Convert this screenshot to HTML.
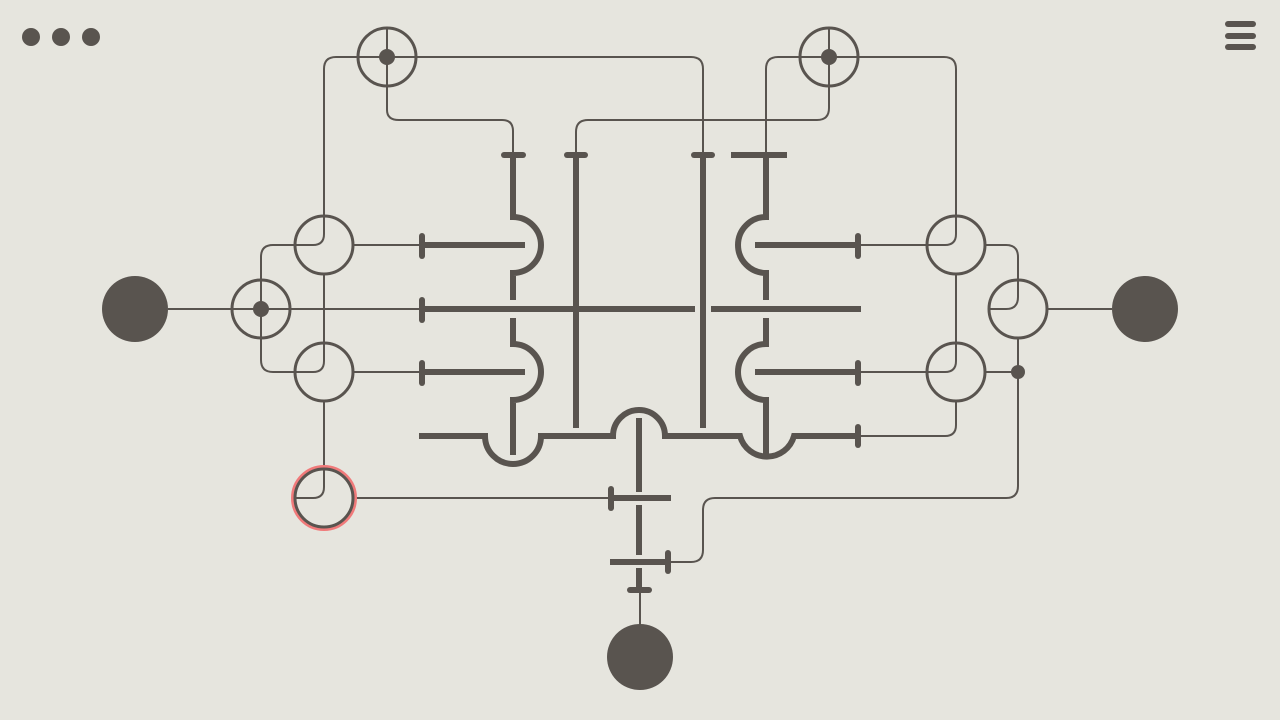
<!DOCTYPE html>
<html><head><meta charset="utf-8"><style>
html,body{margin:0;padding:0;background:#e6e5de;width:1280px;height:720px;overflow:hidden}
</style></head><body>
<svg width="1280" height="720" viewBox="0 0 1280 720" xmlns="http://www.w3.org/2000/svg">
<rect width="1280" height="720" fill="#e6e5de"/>
<g fill="#59544f">
<circle cx="31" cy="37" r="9"/><circle cx="61" cy="37" r="9"/><circle cx="91" cy="37" r="9"/>
<rect x="1225" y="21" width="31" height="6" rx="3"/><rect x="1225" y="33" width="31" height="6" rx="3"/><rect x="1225" y="44" width="31" height="6" rx="3"/>
<circle cx="135" cy="309" r="33"/><circle cx="1145" cy="309" r="33"/><circle cx="640" cy="657" r="33"/>
<circle cx="261" cy="309" r="8"/><circle cx="387" cy="57" r="8"/><circle cx="829" cy="57" r="8"/>
<circle cx="1018" cy="372" r="7"/>
</g>
<g fill="none" stroke="#59544f" stroke-width="2">
<path d="M168 309 H422"/>
<path d="M261 309 V257 Q261 245 273 245 H295"/>
<path d="M353 245 H422"/>
<path d="M261 309 V360 Q261 372 273 372 H313 Q324 372 324 361 V275"/>
<path d="M295 245 H313 Q324 245 324 234 V69 Q324 57 336 57 H691 Q703 57 703 69 V155"/>
<path d="M387 28 V110 Q387 120 399 120 H502 Q513 120 513 131 V155"/>
<path d="M353 372 H422"/>
<path d="M324 402 V487 Q324 498 313 498 H295"/>
<path d="M355 498 H610"/>
<path d="M829 28 V108 Q829 120 817 120 H588 Q576 120 576 132 V155"/>
<path d="M766 155 V69 Q766 57 778 57 H944 Q956 57 956 69 V234 Q956 245 945 245 H858"/>
<path d="M985 245 H1006 Q1018 245 1018 257 V297 Q1018 309 1006 309 H990"/>
<path d="M1048 309 H1112"/>
<path d="M956 275 V361 Q956 372 945 372 H858"/>
<path d="M985 372 H1018"/>
<path d="M956 402 V425 Q956 436 945 436 H858"/>
<path d="M1018 338 V486 Q1018 498 1006 498 H715 Q703 498 703 510 V550 Q703 562 691 562 H668"/>
<path d="M640 590 V625"/>
</g>
<g fill="none" stroke="#59544f" stroke-width="3">
<circle cx="261" cy="309" r="29"/><circle cx="324" cy="245" r="29"/><circle cx="324" cy="372" r="29"/>
<circle cx="387" cy="57" r="29"/><circle cx="829" cy="57" r="29"/>
<circle cx="956" cy="245" r="29"/><circle cx="1018" cy="309" r="29"/><circle cx="956" cy="372" r="29"/>
</g>
<circle cx="324" cy="498" r="31" fill="none" stroke="#f07a7a" stroke-width="4"/>
<circle cx="324" cy="498" r="29" fill="none" stroke="#59544f" stroke-width="3"/>
<g fill="none" stroke="#59544f" stroke-width="6">
<path d="M513 155 V217 A28 28 0 0 1 513 273 V300"/>
<path d="M513 318 V344 A28 28 0 0 1 513 400 V455"/>
<path d="M576 155 V428"/>
<path d="M703 155 V428"/>
<path d="M766 155 V217 A28 28 0 0 0 766 273 V300"/>
<path d="M766 318 V344 A28 28 0 0 0 766 400 V455"/>
<path d="M422 245 H525"/><path d="M422 372 H525"/>
<path d="M422 309 H695"/><path d="M711 309 H861"/>
<path d="M755 245 H858"/><path d="M755 372 H858"/>
<path d="M419 436 H485 A28 28 0 0 0 541 436 H613 A26 26 0 0 1 665 436 H740 A28 28 0 0 0 794 436 H858"/>
<path d="M639 418 V492"/><path d="M639 505 V555"/><path d="M639 568 V590"/>
<path d="M610 498 H671"/><path d="M610 562 H668"/>
<path d="M731 155 H787"/>
</g>
<g stroke="#59544f" stroke-width="6" stroke-linecap="round">
<path d="M504 155 H523"/><path d="M567 155 H585"/><path d="M694 155 H712"/>
<path d="M422 236 V256"/><path d="M422 300 V320"/><path d="M422 363 V383"/>
<path d="M858 236 V256"/><path d="M858 363 V383"/><path d="M858 427 V445"/>
<path d="M611 489 V508"/><path d="M668 553 V571"/><path d="M630 590 H649"/>
</g>
</svg>
</body></html>
